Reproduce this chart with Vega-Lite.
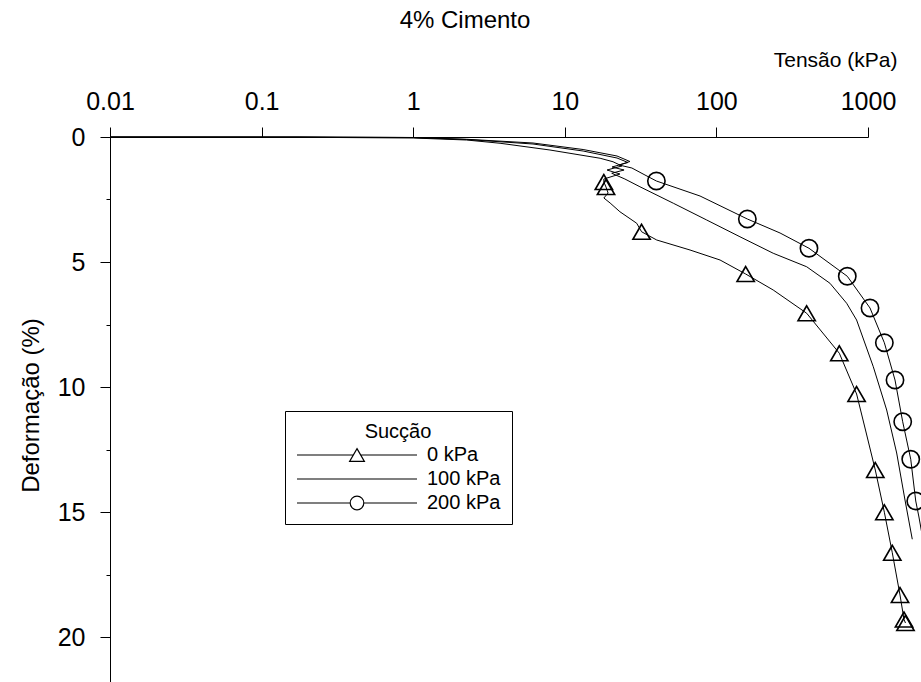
{
  "$schema": "https://vega.github.io/schema/vega-lite/v6.json",
  "autosize": {"type": "none"},
  "padding": {"left": 110, "top": 137, "right": 53, "bottom": 0},
  "width": 758,
  "height": 545,
  "background": "white",
  "title": {"text": "4% Cimento", "fontSize": 24, "fontWeight": "normal", "font": "Liberation Sans", "color": "black", "anchor": "middle", "dx": -24, "offset": 16},
  "data": {
    "values": [
      {"s": "0 kPa", "x": 0.01, "y": 0, "m": 0},
      {"s": "0 kPa", "x": 0.179, "y": 0.01, "m": 0},
      {"s": "0 kPa", "x": 1.0, "y": 0.04, "m": 0},
      {"s": "0 kPa", "x": 2.25, "y": 0.12, "m": 0},
      {"s": "0 kPa", "x": 3.74, "y": 0.25, "m": 0},
      {"s": "0 kPa", "x": 7.98, "y": 0.52, "m": 0},
      {"s": "0 kPa", "x": 17.1, "y": 0.85, "m": 0},
      {"s": "0 kPa", "x": 20.8, "y": 0.99, "m": 0},
      {"s": "0 kPa", "x": 23.8, "y": 1.16, "m": 0},
      {"s": "0 kPa", "x": 19.0, "y": 1.32, "m": 0},
      {"s": "0 kPa", "x": 23.1, "y": 1.48, "m": 0},
      {"s": "0 kPa", "x": 18.1, "y": 1.68, "m": 0},
      {"s": "0 kPa", "x": 18.1, "y": 1.8, "m": 1},
      {"s": "0 kPa", "x": 18.7, "y": 2.0, "m": 1},
      {"s": "0 kPa", "x": 19.3, "y": 2.24, "m": 0},
      {"s": "0 kPa", "x": 18.1, "y": 2.44, "m": 0},
      {"s": "0 kPa", "x": 19.9, "y": 2.64, "m": 0},
      {"s": "0 kPa", "x": 23.1, "y": 2.99, "m": 0},
      {"s": "0 kPa", "x": 29.8, "y": 3.45, "m": 0},
      {"s": "0 kPa", "x": 32.1, "y": 3.79, "m": 1},
      {"s": "0 kPa", "x": 40.4, "y": 4.12, "m": 0},
      {"s": "0 kPa", "x": 67.0, "y": 4.52, "m": 0},
      {"s": "0 kPa", "x": 105.7, "y": 4.92, "m": 0},
      {"s": "0 kPa", "x": 156, "y": 5.48, "m": 1},
      {"s": "0 kPa", "x": 237, "y": 6.12, "m": 0},
      {"s": "0 kPa", "x": 394, "y": 7.05, "m": 1},
      {"s": "0 kPa", "x": 647, "y": 8.65, "m": 1},
      {"s": "0 kPa", "x": 841, "y": 10.28, "m": 1},
      {"s": "0 kPa", "x": 970, "y": 11.8, "m": 0},
      {"s": "0 kPa", "x": 1117, "y": 13.32, "m": 1},
      {"s": "0 kPa", "x": 1282, "y": 15.01, "m": 1},
      {"s": "0 kPa", "x": 1446, "y": 16.63, "m": 1},
      {"s": "0 kPa", "x": 1626, "y": 18.32, "m": 1},
      {"s": "0 kPa", "x": 1728, "y": 19.3, "m": 1},
      {"s": "0 kPa", "x": 1767, "y": 19.44, "m": 1},
      {"s": "100 kPa", "x": 0.01, "y": 0, "m": 0},
      {"s": "100 kPa", "x": 0.179, "y": 0.0, "m": 0},
      {"s": "100 kPa", "x": 1.0, "y": 0.02, "m": 0},
      {"s": "100 kPa", "x": 2.25, "y": 0.1, "m": 0},
      {"s": "100 kPa", "x": 6.17, "y": 0.28, "m": 0},
      {"s": "100 kPa", "x": 13.2, "y": 0.56, "m": 0},
      {"s": "100 kPa", "x": 22.1, "y": 0.84, "m": 0},
      {"s": "100 kPa", "x": 26.1, "y": 1.02, "m": 0},
      {"s": "100 kPa", "x": 20.5, "y": 1.2, "m": 0},
      {"s": "100 kPa", "x": 24.6, "y": 1.32, "m": 0},
      {"s": "100 kPa", "x": 20.4, "y": 1.45, "m": 0},
      {"s": "100 kPa", "x": 24.9, "y": 1.68, "m": 0},
      {"s": "100 kPa", "x": 31.3, "y": 1.99, "m": 0},
      {"s": "100 kPa", "x": 52.0, "y": 2.65, "m": 0},
      {"s": "100 kPa", "x": 86.3, "y": 3.32, "m": 0},
      {"s": "100 kPa", "x": 143, "y": 3.99, "m": 0},
      {"s": "100 kPa", "x": 237, "y": 4.65, "m": 0},
      {"s": "100 kPa", "x": 394, "y": 5.19, "m": 0},
      {"s": "100 kPa", "x": 561, "y": 5.85, "m": 0},
      {"s": "100 kPa", "x": 723, "y": 6.65, "m": 0},
      {"s": "100 kPa", "x": 841, "y": 7.32, "m": 0},
      {"s": "100 kPa", "x": 1084, "y": 9.19, "m": 0},
      {"s": "100 kPa", "x": 1328, "y": 10.92, "m": 0},
      {"s": "100 kPa", "x": 1546, "y": 12.64, "m": 0},
      {"s": "100 kPa", "x": 1754, "y": 14.52, "m": 0},
      {"s": "100 kPa", "x": 1959, "y": 16.09, "m": 0},
      {"s": "200 kPa", "x": 0.01, "y": 0, "m": 0},
      {"s": "200 kPa", "x": 0.179, "y": 0.0, "m": 0},
      {"s": "200 kPa", "x": 1.0, "y": 0.02, "m": 0},
      {"s": "200 kPa", "x": 2.25, "y": 0.09, "m": 0},
      {"s": "200 kPa", "x": 6.17, "y": 0.24, "m": 0},
      {"s": "200 kPa", "x": 13.2, "y": 0.5, "m": 0},
      {"s": "200 kPa", "x": 22.1, "y": 0.76, "m": 0},
      {"s": "200 kPa", "x": 26.9, "y": 0.98, "m": 0},
      {"s": "200 kPa", "x": 22.8, "y": 1.12, "m": 0},
      {"s": "200 kPa", "x": 27.7, "y": 1.24, "m": 0},
      {"s": "200 kPa", "x": 33.8, "y": 1.52, "m": 0},
      {"s": "200 kPa", "x": 40.2, "y": 1.76, "m": 1},
      {"s": "200 kPa", "x": 78.0, "y": 2.36, "m": 0},
      {"s": "200 kPa", "x": 160, "y": 3.28, "m": 1},
      {"s": "200 kPa", "x": 263, "y": 3.84, "m": 0},
      {"s": "200 kPa", "x": 408, "y": 4.45, "m": 1},
      {"s": "200 kPa", "x": 730, "y": 5.57, "m": 1},
      {"s": "200 kPa", "x": 1031, "y": 6.84, "m": 1},
      {"s": "200 kPa", "x": 1282, "y": 8.23, "m": 1},
      {"s": "200 kPa", "x": 1507, "y": 9.72, "m": 1},
      {"s": "200 kPa", "x": 1694, "y": 11.39, "m": 1},
      {"s": "200 kPa", "x": 1914, "y": 12.89, "m": 1},
      {"s": "200 kPa", "x": 2065, "y": 14.56, "m": 1},
      {"s": "200 kPa", "x": 2168, "y": 15.2, "m": 0},
      {"s": "200 kPa", "x": 2306, "y": 16.12, "m": 0}
    ]
  },
  "encoding": {
    "x": {
      "field": "x", "type": "quantitative",
      "scale": {"type": "log", "domain": [0.01, 1000], "nice": false},
      "axis": {
        "orient": "top", "values": [0.01, 0.1, 1, 10, 100, 1000], "format": "~g",
        "labelFlush": false, "labelOverlap": false, "grid": false,
        "tickSize": 10, "labelPadding": 13, "labelFontSize": 25, "labelColor": "black",
        "domainColor": "black", "tickColor": "black",
        "title": "Tensão (kPa)", "titleFontSize": 21, "titleFontWeight": "normal", "titleColor": "black",
        "titleX": 787, "titleY": -77, "titleAlign": "right", "titleBaseline": "middle"
      }
    },
    "y": {
      "field": "y", "type": "quantitative",
      "scale": {"domain": [0, 21.8], "nice": false, "reverse": true},
      "axis": {
        "orient": "left", "values": [0, 2.5, 5, 7.5, 10, 12.5, 15, 17.5, 20],
        "labelExpr": "datum.value % 5 === 0 ? datum.label : ''",
        "tickSize": {"condition": {"test": "datum.value % 5 === 0", "value": 10}, "value": 4},
        "labelFlush": false, "labelOverlap": false, "grid": false,
        "labelPadding": 15, "labelFontSize": 25, "labelColor": "black",
        "domainColor": "black", "tickColor": "black",
        "title": "Deformação (%)", "titleFontSize": 24, "titleFontWeight": "normal", "titleColor": "black",
        "titleX": -79, "titleY": 268, "titleAngle": 270, "titleAlign": "center", "titleBaseline": "middle"
      }
    }
  },
  "layer": [
    {
      "mark": {"type": "line", "color": "black", "strokeWidth": 1, "clip": false},
      "encoding": {
        "detail": {"field": "s", "type": "nominal"},
        "order": {"value": null}
      }
    },
    {
      "transform": [{"filter": "datum.m === 1"}],
      "mark": {"type": "point", "filled": false, "color": "black", "strokeWidth": 1.6, "size": 300, "clip": false, "opacity": 1},
      "encoding": {
        "shape": {
          "field": "s", "type": "nominal",
          "scale": {"domain": ["0 kPa", "100 kPa", "200 kPa"], "range": ["triangle-up", "circle", "circle"]},
          "legend": null
        }
      }
    },
    {
      "transform": [{"filter": "datum.m === 1"}],
      "mark": {"type": "point", "filled": false, "color": "black", "strokeWidth": 1.2, "size": 289, "clip": false, "opacity": 0},
      "encoding": {
        "shape": {
          "field": "s", "type": "nominal",
          "scale": {
            "domain": ["0 kPa", "100 kPa", "200 kPa"],
            "range": [
              "M-7.06,0L-0.44,0M0.44,0L7.06,0M0,-0.75L0.87,0.75L-0.87,0.75Z",
              "M-7.06,0L7.06,0",
              "M-7.06,0L-0.8,0M0.8,0L7.06,0M-0.8,0A0.8,0.8,0,1,0,0.8,0A0.8,0.8,0,1,0,-0.8,0Z"
            ]
          },
          "legend": {
            "title": "Sucção", "orient": "none", "legendX": 175, "legendY": 274,
            "strokeColor": "black", "fillColor": "white", "padding": 11,
            "titleFontSize": 20, "titleFontWeight": "normal", "titleColor": "black", "titleAnchor": "middle", "titlePadding": 3,
            "labelFontSize": 20, "labelColor": "black", "labelOffset": 60,
            "symbolSize": 289, "symbolOffset": 51, "symbolStrokeWidth": 1.2, "symbolOpacity": 1,
            "symbolStrokeColor": "black", "symbolFillColor": "white", "rowPadding": 4
          }
        }
      }
    }
  ],
  "resolve": {"scale": {"shape": "independent"}, "legend": {"shape": "independent"}},
  "config": {
    "view": {"stroke": null},
    "font": "Liberation Sans",
    "axis": {"labelFont": "Liberation Sans", "titleFont": "Liberation Sans"},
    "legend": {"labelFont": "Liberation Sans", "titleFont": "Liberation Sans"}
  }
}
